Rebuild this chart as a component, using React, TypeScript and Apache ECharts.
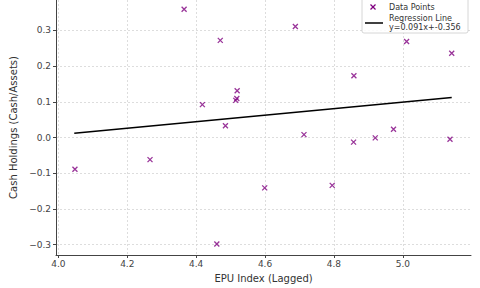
import React, { useEffect, useRef } from "react";
import * as echarts from "echarts";

const epuIndex = [4.365, 4.470, 4.418, 4.519, 4.518, 4.515, 4.485, 4.688, 5.011, 5.142, 4.858, 4.713, 4.920, 4.973, 5.137, 4.857, 4.599, 4.795, 4.048, 4.266, 4.460];
const cashHoldings = [0.359, 0.272, 0.092, 0.131, 0.109, 0.104, 0.033, 0.311, 0.269, 0.236, 0.173, 0.008, -0.001, 0.023, -0.005, -0.013, -0.141, -0.134, -0.089, -0.062, -0.298];
const regressionLine = [[4.046, 0.012], [5.142, 0.112]];
const xTicks = [4.0, 4.2, 4.4, 4.6, 4.8, 5.0];
const yTicks = [-0.3, -0.2, -0.1, 0.0, 0.1, 0.2, 0.3];
const legendPoints = "Data Points";
const legendLine = "Regression Line";
const legendEq = "y=0.091x+-0.356";
const xTitle = "EPU Index (Lagged)";
const yTitle = "Cash Holdings (Cash/Assets)";

const FONT = "DejaVu Sans";
const PURPLE = "#800080";

export default function App() {
  const ref = useRef<HTMLDivElement>(null);
  useEffect(() => {
    if (!ref.current) return;
    const chart = echarts.init(ref.current, undefined, { renderer: "svg" });
    const fmt = (v: number) => (v < 0 ? "\u2212" : "") + Math.abs(v).toFixed(1);
    chart.setOption({
      animation: false,
      backgroundColor: "#fff",
      grid: { left: 50, right: 9, top: 0, bottom: 31, containLabel: false },
      xAxis: {
        type: "value",
        min: 3.993,
        max: 5.198,
        name: xTitle,
        nameLocation: "middle",
        nameGap: 18,
        nameTextStyle: { fontFamily: FONT, fontSize: 10, color: "#333" },
        axisLine: { show: true, onZero: false, lineStyle: { color: "#444", width: 1 } },
        axisTick: { show: true, length: 3, customValues: xTicks, lineStyle: { color: "#444" } },
        axisLabel: { customValues: xTicks, fontFamily: FONT, fontSize: 9, color: "#444", margin: 4, formatter: (v: number) => v.toFixed(1) },
        splitLine: { show: true, lineStyle: { color: "#d4d4d4", type: [2, 2], width: 0.8 } },
      },
      yAxis: {
        type: "value",
        min: -0.329,
        max: 0.385,
        name: yTitle,
        nameLocation: "middle",
        nameGap: 38,
        nameTextStyle: { fontFamily: FONT, fontSize: 10, color: "#333" },
        axisLine: { show: true, onZero: false, lineStyle: { color: "#444", width: 1 } },
        axisTick: { show: true, length: 3, customValues: yTicks, lineStyle: { color: "#444" } },
        axisLabel: { customValues: yTicks, fontFamily: FONT, fontSize: 9, color: "#444", margin: 5, formatter: fmt },
        splitLine: { show: true, lineStyle: { color: "#d4d4d4", type: [2, 2], width: 0.8 } },
      },
      series: [
        {
          type: "scatter",
          name: legendPoints,
          data: epuIndex.map((x, i) => [x, cashHoldings[i]]),
          symbol: "path://M0,0L10,10M10,0L0,10",
          symbolSize: 5,
          itemStyle: { color: "rgba(0,0,0,0)", borderColor: PURPLE, borderWidth: 1.3 },
          z: 3,
        },
        {
          type: "line",
          name: legendLine,
          data: regressionLine,
          showSymbol: false,
          symbol: "none",
          lineStyle: { color: "#000", width: 1.5 },
          z: 2,
        },
      ],
      graphic: [
        {
          type: "rect",
          shape: { x: 362, y: -3, width: 106, height: 36, r: 2 },
          style: { fill: "rgba(255,255,255,0.85)", stroke: "#cccccc", lineWidth: 0.8 },
          z: 10,
        },
        { type: "line", shape: { x1: 370.5, y1: 4.5, x2: 375.5, y2: 9.5 }, style: { stroke: PURPLE, lineWidth: 1.3 }, z: 11 },
        { type: "line", shape: { x1: 375.5, y1: 4.5, x2: 370.5, y2: 9.5 }, style: { stroke: PURPLE, lineWidth: 1.3 }, z: 11 },
        { type: "line", shape: { x1: 365, y1: 23, x2: 383, y2: 23 }, style: { stroke: "#000", lineWidth: 1.5 }, z: 11 },
        { type: "text", x: 389, y: 7, style: { text: legendPoints, font: `8px "${FONT}"`, fill: "#333", textVerticalAlign: "middle" }, z: 11 },
        { type: "text", x: 389, y: 18, style: { text: legendLine, font: `8px "${FONT}"`, fill: "#333", textVerticalAlign: "middle" }, z: 11 },
        { type: "text", x: 389, y: 27, style: { text: legendEq, font: `8px "${FONT}"`, fill: "#333", textVerticalAlign: "middle" }, z: 11 },
      ],
    });
    return () => chart.dispose();
  }, []);
  return <div ref={ref} style={{ width: 480, height: 288, position: "absolute", left: 0, top: 0 }} />;
}
